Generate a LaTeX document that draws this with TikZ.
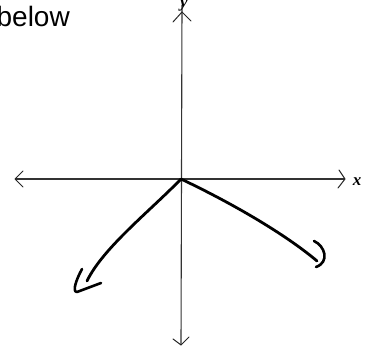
\documentclass[tikz,border=0pt]{standalone}
\usepackage{fontspec}
\setmainfont{Liberation Sans}
\newfontfamily\serifit{Liberation Serif}
\begin{document}
\begin{tikzpicture}[x=1pt,y=-1pt,
  axis/.style={line width=1.1pt,draw=black!80},
  wing/.style={line width=1pt,draw=black!85,line cap=round,line join=round},
  pen/.style={line width=2.8pt,draw=black,line cap=round,line join=round},
  hook/.style={line width=2.6pt,draw=black,line cap=round,line join=round},
  lbl/.style={inner sep=0pt,font=\serifit\bfseries\itshape\fontsize{17}{17}\selectfont}]
\useasboundingbox (0,0) rectangle (371,352);
% text
\node[anchor=base east,inner sep=0pt,font=\fontsize{28}{28}\selectfont] (txt) at (70,27) {below};
% coordinates
\coordinate (O) at (181,179);
\coordinate (L) at (15,179);
\coordinate (R) at (345,179);
\coordinate (T) at (182,12);
\coordinate (B) at (181,345);
% axes
\draw[axis] (L) -- (R);
\draw[axis] (B) -- (182,5);
% axis arrow wings
\draw[wing] (23,171) -- (L) -- (23,187);
\draw[wing] (339,170) -- (R) -- (338,188);
\draw[wing] (173,22) -- (T) -- (191,21);
\draw[wing] (173,339) -- (B) -- (189,337);
% labels
\node[lbl,anchor=base] (xl) at (357,186) {x};
\node[lbl,anchor=base] (yl) at (184,8) {y};
% left curve
\coordinate (LE) at (87,281);
\draw[pen] (O) .. controls (150,211) and (103,248) .. (LE);
\draw[hook] (82,269) .. controls (76,280) and (72,292) .. (77,292) -- (101,283);
% right curve
\coordinate (RE) at (317,261);
\draw[pen] (O) .. controls (240,207) and (290,238) .. (RE);
\draw[hook] (314,241) .. controls (325,246) and (330,262) .. (316,267);
\end{tikzpicture}
\end{document}
